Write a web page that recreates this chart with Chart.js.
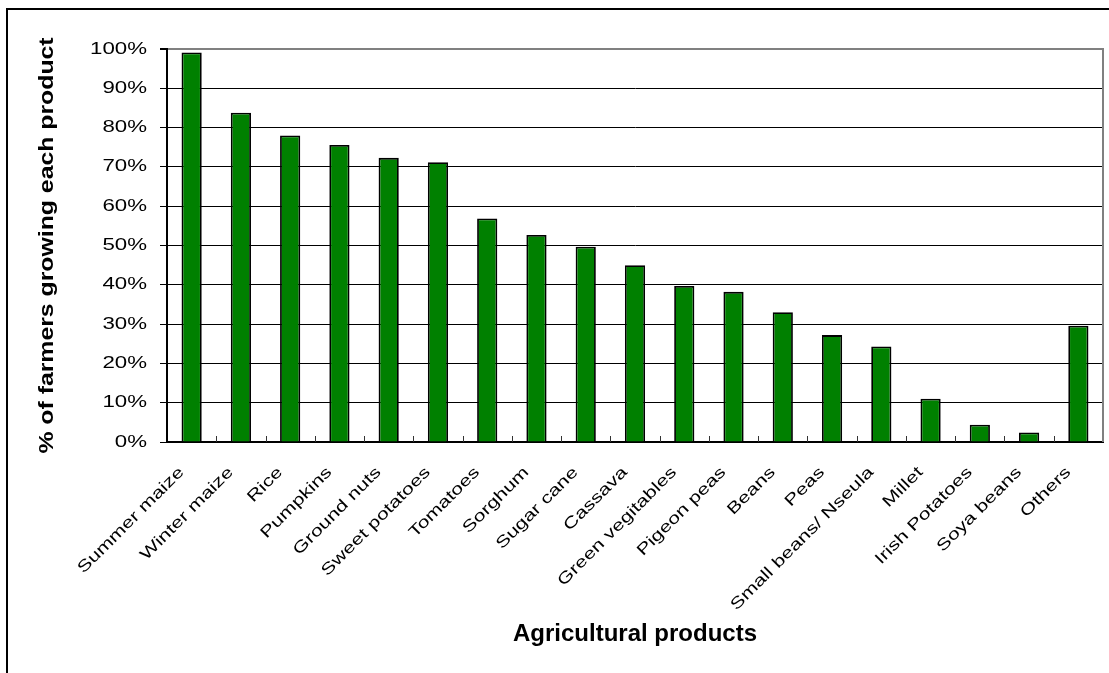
<!DOCTYPE html>
<html>
<head>
<meta charset="utf-8">
<title>Agricultural products</title>
<script src="https://cdn.jsdelivr.net/npm/chart.js@4.4.1/dist/chart.umd.min.js"></script>
<style>
    html, body { margin: 0; padding: 0; background: #fff; overflow: hidden; }
    #wrap { position: relative; width: 1109px; height: 673px; }
    #frame {
        position: absolute; left: 6px; top: 8px;
        width: 1200px; height: 800px;
        border: 2px solid #000; pointer-events: none;
    }
</style>
</head>
<body>
<div id="wrap">
    <canvas id="cropChart" width="1109" height="673"></canvas>
    <div id="frame"></div>
</div>
<script>
const products = ['Summer maize', 'Winter maize', 'Rice', 'Pumpkins', 'Ground nuts', 'Sweet potatoes',
    'Tomatoes', 'Sorghum', 'Sugar cane', 'Cassava', 'Green vegitables', 'Pigeon peas', 'Beans', 'Peas',
    'Small beans/ Nseula', 'Millet', 'Irish Potatoes', 'Soya beans', 'Others'];
const farmerShare = [99.1, 83.8, 78.0, 75.6, 72.3, 71.2, 56.9, 52.7, 49.7, 45.0, 39.7, 38.2, 33.0, 27.2,
    24.3, 11.0, 4.4, 2.4, 29.6];
const yTicks = [0, 10, 20, 30, 40, 50, 60, 70, 80, 90, 100];

const family = '"Liberation Sans", Arial, sans-serif';

// the old spreadsheet text is drawn wide, so widen some fonts along the baseline
const stretch = { '16.5px': 1.35, '16px': 1.33, '20px': 1.24 };
function stretchFor(font) {
    for (const key in stretch) {
        if (font.indexOf(key) !== -1) return stretch[key];
    }
    return 1;
}

const canvas = document.getElementById('cropChart');
const ctx = canvas.getContext('2d');
const baseFill = ctx.fillText.bind(ctx);
const baseMeasure = ctx.measureText.bind(ctx);
ctx.fillText = function (text, x, y, maxWidth) {
    const sx = stretchFor(ctx.font);
    if (sx === 1) return baseFill(text, x, y, maxWidth);
    ctx.save();
    ctx.translate(x, y);
    ctx.scale(sx, 1);
    baseFill(text, 0, 0);
    ctx.restore();
};
ctx.measureText = function (text) {
    const m = baseMeasure(text);
    const sx = stretchFor(ctx.font);
    if (sx === 1) return m;
    return {
        width: m.width * sx,
        actualBoundingBoxAscent: m.actualBoundingBoxAscent,
        actualBoundingBoxDescent: m.actualBoundingBoxDescent,
        actualBoundingBoxLeft: m.actualBoundingBoxLeft * sx,
        actualBoundingBoxRight: m.actualBoundingBoxRight * sx
    };
};

// gray right edge of the plot and small inner ticks between categories
const plotFrame = {
    id: 'plotFrame',
    afterDraw(chart) {
        const { ctx, chartArea } = chart;
        const x = chart.scales.x;
        ctx.save();
        ctx.strokeStyle = '#808080';
        ctx.lineWidth = 2;
        ctx.beginPath();
        ctx.moveTo(chartArea.right, chartArea.top - 1);
        ctx.lineTo(chartArea.right, chartArea.bottom);
        ctx.stroke();

        ctx.strokeStyle = '#333';
        ctx.lineWidth = 1;
        ctx.beginPath();
        for (let i = 1; i < products.length; i++) {
            const px = Math.round((x.getPixelForValue(i - 1) + x.getPixelForValue(i)) / 2) + 0.5;
            ctx.moveTo(px, chartArea.bottom);
            ctx.lineTo(px, chartArea.bottom - 6);
        }
        ctx.stroke();
        ctx.restore();
    }
};

new Chart(canvas, {
    type: 'bar',
    data: {
        labels: products,
        datasets: [{
            data: farmerShare,
            backgroundColor: '#008000',
            borderColor: '#000',
            borderWidth: 1.8,
            barPercentage: 0.41,
            categoryPercentage: 1
        }]
    },
    options: {
        responsive: false,
        animation: false,
        layout: { padding: { top: 49, right: 6, bottom: 0, left: 0 } },
        plugins: {
            legend: { display: false },
            tooltip: { enabled: false }
        },
        scales: {
            x: {
                grid: { display: false, drawTicks: false },
                border: { color: '#000', width: 2 },
                ticks: {
                    autoSkip: false,
                    minRotation: 45,
                    maxRotation: 45,
                    padding: 21,
                    labelOffset: -10,
                    color: '#000',
                    font: { family, size: 16 }
                },
                title: {
                    display: true,
                    text: 'Agricultural products',
                    color: '#000',
                    font: { family, size: 24, weight: 'bold' },
                    padding: { top: 0, bottom: 24 }
                },
                afterFit(scale) {
                    scale.height = 231;
                    scale.paddingLeft = 0;
                    scale.paddingRight = 0;
                }
            },
            y: {
                min: 0,
                max: 100,
                afterBuildTicks(scale) { scale.ticks = yTicks.map(v => ({ value: v })); },
                ticks: {
                    padding: 13,
                    color: '#000',
                    font: { family, size: 16.5 },
                    callback: v => v + '%'
                },
                grid: {
                    color: c => c.tick && c.tick.value === 100 ? '#808080' : '#000',
                    lineWidth: c => c.tick && c.tick.value === 100 ? 2 : 1,
                    tickLength: 7,
                    tickColor: '#000'
                },
                border: { color: '#000', width: 2 },
                title: {
                    display: true,
                    text: '% of farmers growing each product',
                    color: '#000',
                    font: { family, size: 20, weight: 'bold' },
                    padding: { top: 35, bottom: 0 }
                },
                afterFit(scale) { scale.width = 167; }
            }
        }
    },
    plugins: [plotFrame]
});
</script>
</body>
</html>
